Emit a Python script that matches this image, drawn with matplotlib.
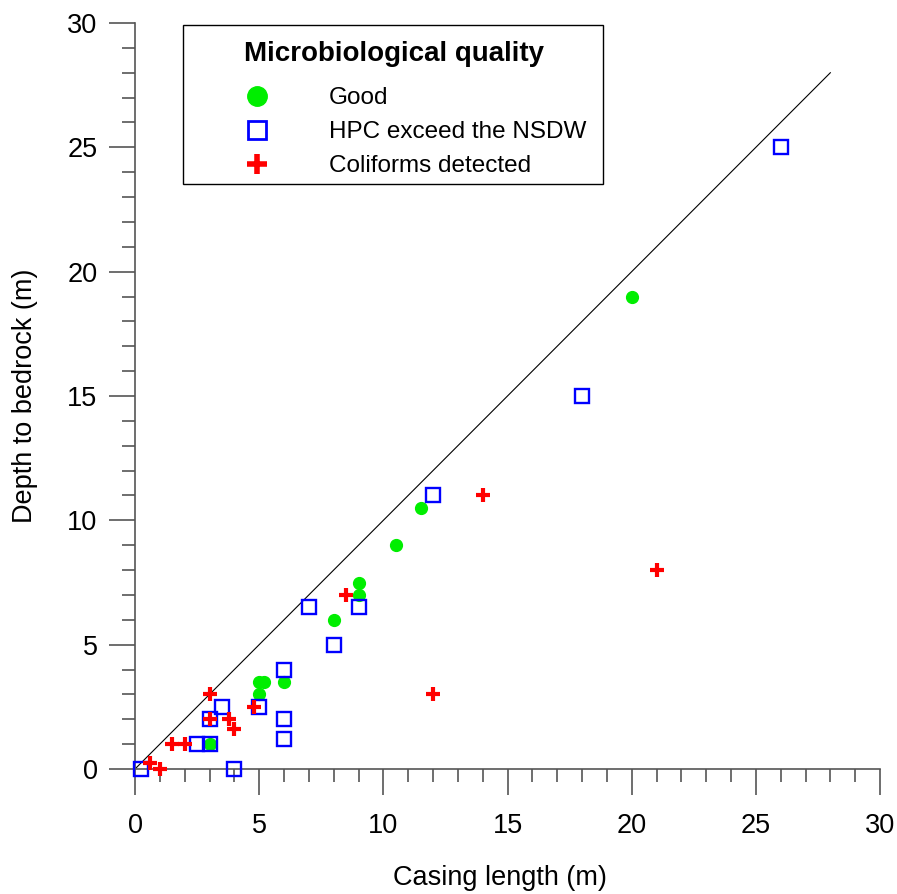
import matplotlib
matplotlib.use("Agg")
import matplotlib.pyplot as plt
from matplotlib.lines import Line2D
from matplotlib.patches import Rectangle
from matplotlib.ticker import MultipleLocator

plt.rcParams['font.family'] = ['Liberation Sans', 'DejaVu Sans']

# Data
good_x = [3, 5, 5, 5.2, 6, 8, 9, 9, 10.5, 11.5, 20]
good_y = [1, 3, 3.5, 3.5, 3.5, 6, 7, 7.5, 9, 10.5, 19]

hpc_x = [0.25, 4, 2.5, 3, 3, 3.5, 5, 6, 6, 6, 7, 8, 9, 12, 18, 26]
hpc_y = [0, 0, 1, 1, 2, 2.5, 2.5, 4, 2, 1.2, 6.5, 5, 6.5, 11, 15, 25]

coli_x = [0.6, 1, 1.5, 2, 3, 3, 3.8, 4, 4.8, 8.5, 14, 12, 21]
coli_y = [0.25, 0, 1, 1, 2, 3, 2, 1.6, 2.5, 7, 11, 3, 8]

line_x = [0, 28]
line_y = [0, 28]

labels = ["Good", "HPC exceed the NSDW", "Coliforms detected"]
legend_title = "Microbiological quality"

W, H = 897, 894
fig = plt.figure(figsize=(W / 100, H / 100), dpi=100)
ax = fig.add_axes([135 / W, 1 - 769 / H, (880 - 135) / W, (769 - 23) / H])

ax.plot(line_x, line_y, color='black', lw=0.8, zorder=1)
ax.plot(good_x, good_y, linestyle='none', marker='o', ms=8.5, color='#00ee00',
        mec='#00ee00', zorder=3, clip_on=False)
ax.plot(hpc_x, hpc_y, linestyle='none', marker='s', ms=10.5, mfc='none',
        mec='#0000ff', mew=1.7, zorder=4, clip_on=False)
ax.plot(coli_x, coli_y, linestyle='none', marker='+', ms=10, mec='#ff0000',
        mew=3, zorder=5, clip_on=False)

ax.set_xlim(0, 30)
ax.set_ylim(0, 30)
ax.xaxis.set_major_locator(MultipleLocator(5))
ax.xaxis.set_minor_locator(MultipleLocator(1))
ax.yaxis.set_major_locator(MultipleLocator(5))
ax.yaxis.set_minor_locator(MultipleLocator(1))

for s in ['top', 'right']:
    ax.spines[s].set_visible(False)
for s in ['left', 'bottom']:
    ax.spines[s].set_color('#555555')
    ax.spines[s].set_linewidth(1.2)

ax.tick_params(which='major', direction='out', length=19, width=1.2,
               color='#555555', labelsize=19.5, pad=13)
ax.tick_params(which='minor', direction='out', length=9.5, width=1.2,
               color='#555555')
ax.tick_params(axis='y', which='major', pad=8)

ax.set_xlabel("Casing length (m)", fontsize=19.5)
ax.set_ylabel("Depth to bedrock (m)", fontsize=19.5)
ax.xaxis.set_label_coords((500 - 135) / (880 - 135), -(878 - 769) / (769 - 23), transform=ax.transAxes)
ax.yaxis.set_label_coords(-(135 - 25) / (880 - 135), 0.5, transform=ax.transAxes)
ax.xaxis.label.set_va('center')
ax.yaxis.label.set_va('center')

handles = [
    Line2D([], [], linestyle='none', marker='o', ms=14, color='#00ee00'),
    Line2D([], [], linestyle='none', marker='s', ms=13.5, mfc='none', mec='#0000ff', mew=2),
    Line2D([], [], linestyle='none', marker='+', ms=15, mec='#ff0000', mew=4),
]
fs = 17.5
hl_px = 109
handle_left = 257 - hl_px / 2
leg = ax.legend(handles, labels, title=legend_title,
                title_fontproperties={'weight': 'bold', 'size': 20},
                fontsize=fs, loc='upper left',
                bbox_to_anchor=(handle_left / W, 1 - 41 / H), bbox_transform=fig.transFigure,
                borderaxespad=0, frameon=False, borderpad=0,
                handlelength=hl_px * 0.72 / fs, handletextpad=(329 - 257 - hl_px / 2) * 0.72 / fs,
                labelspacing=0.5)
leg._legend_box.align = "center"
leg._legend_box.sep = 14.5
# legend frame
fig.patches.append(Rectangle((183 / W, 1 - 184 / H), (603 - 183) / W, (184 - 25) / H,
                             transform=fig.transFigure, fill=False, edgecolor='black',
                             linewidth=1.0, zorder=10))

fig.savefig("out.png", dpi=100)
